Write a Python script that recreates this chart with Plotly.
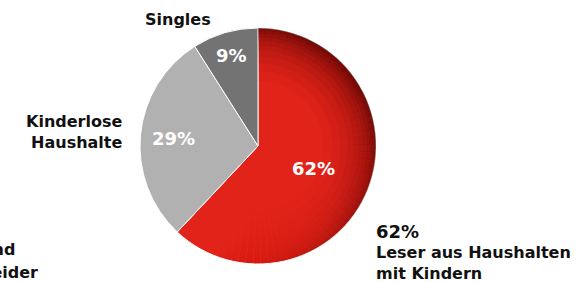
import math
import plotly.graph_objects as go

categories = ["Leser aus Haushalten mit Kindern", "Kinderlose Haushalte", "Singles"]
values = [62, 29, 9]
colors = ["#E2231A", "#B1B1B1", "#737373"]
label_radius = [0.51, 0.72, 0.80]

W, H = 588, 282
cx, cy, r = 258, 146, 118

def px(x, y):
    return x / W, 1 - y / H

dom_x = [(cx - r) / W, (cx + r) / W]
dom_y = [1 - (cy + r) / H, 1 - (cy - r) / H]

fig = go.Figure()
fig.add_trace(go.Pie(
    labels=categories, values=values, sort=False, direction="clockwise", rotation=0,
    marker=dict(colors=colors, line=dict(color="white", width=1)),
    textinfo="none",
    domain=dict(x=dom_x, y=dom_y), hoverinfo="skip", showlegend=False,
))

# directional edge shading on the red slice (light from lower left)
N = 60
total = sum(values)
sub_vals = [values[0] / N] * N + values[1:]
factors = []
for i in range(N):
    th = (i + 0.5) / N * values[0] / total * 360.0
    factors.append((1 + math.cos(math.radians(th - 45))) / 2)
rings = [(0.55, 0.04), (0.63, 0.05), (0.70, 0.06), (0.76, 0.07), (0.81, 0.08), (0.85, 0.09),
         (0.89, 0.10), (0.92, 0.12), (0.95, 0.14), (0.975, 0.16)]
for hole, a in rings:
    cols = [f"rgba(50,0,0,{a * f ** 1.5:.3f})" for f in factors] + ["rgba(0,0,0,0)"] * (len(values) - 1)
    fig.add_trace(go.Pie(
        values=sub_vals, sort=False, direction="clockwise", rotation=0,
        hole=hole, textinfo="none",
        marker=dict(colors=cols, line=dict(width=0)),
        domain=dict(x=dom_x, y=dom_y), hoverinfo="skip", showlegend=False,
    ))

FAM = "DejaVu Sans"
start = 0.0
for v, rf in zip(values, label_radius):
    mid = (start + v / 2) / total * 2 * math.pi
    start += v
    lx = cx + rf * r * math.sin(mid)
    ly = cy - rf * r * math.cos(mid)
    x, y = px(lx, ly)
    fig.add_annotation(x=x, y=y, xref="paper", yref="paper", text=f"{v}%", showarrow=False,
                       xanchor="center", yanchor="middle",
                       font=dict(family=FAM, size=18, color="white", weight="bold"))

def ann(x, y, text, xanchor, size=16):
    ax, ay = px(x, y)
    fig.add_annotation(x=ax, y=ay, xref="paper", yref="paper", text=text,
                       showarrow=False, xanchor=xanchor, yanchor="middle", align=xanchor,
                       font=dict(family=FAM, size=size, color="#111111", weight="bold"))

ann(213, 20, "Singles", "right")
ann(124, 132, "Kinderlose<br>Haushalte", "right")
ann(17, 250, "Paare und", "right")
ann(40, 272, "Alleinerziehende beider", "right")
ann(374, 231, f"{values[0]}%", "left", 18)
ann(374, 263, "Leser aus Haushalten<br>mit Kindern", "left")

fig.update_layout(width=W, height=H, margin=dict(l=0, r=0, t=0, b=0),
                  paper_bgcolor="white", plot_bgcolor="white")
fig.write_html("out.html", config={"displayModeBar": False},
               post_script="document.body.style.margin='0';")
